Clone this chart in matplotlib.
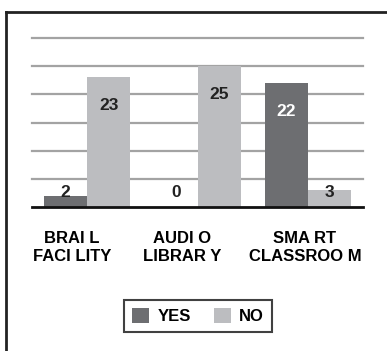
import matplotlib
matplotlib.use('Agg')
import matplotlib.pyplot as plt
import matplotlib.transforms as mtransforms
from matplotlib.lines import Line2D
import numpy as np

categories = ['BRAI L\nFACI LITY', 'AUDI O\nLIBRAR Y', 'SMA RT\nCLASSROO M']
yes_vals = [2, 0, 22]
no_vals = [23, 25, 3]
series_names = ['YES', 'NO']

dark = '#6d6e71'
light = '#bcbdc0'

plt.rcParams['font.family'] = ['Liberation Sans', 'DejaVu Sans']
plt.rcParams['font.weight'] = 'bold'

W, H = 387, 351
fig = plt.figure(figsize=(W / 100, H / 100), dpi=100)
ax = fig.add_axes([32 / W, 1 - 207 / H, 331 / W, 169 / H])

x = np.arange(len(categories))
w = 0.39
b1 = ax.bar(x - w / 2, yes_vals, w, color=dark, label=series_names[0], zorder=3)
b2 = ax.bar(x + w / 2, no_vals, w, color=light, label=series_names[1], zorder=3)

ax.set_xlim(-0.5, 2.5)
ax.set_ylim(0, 30)
ax.set_yticks(np.arange(5, 31, 5))
ax.yaxis.grid(True, color='#a3a3a3', linewidth=1.6, zorder=0)
for gl in ax.get_ygridlines():
    gl.set_clip_on(False)
ax.tick_params(axis='y', length=0, labelleft=False)
ax.tick_params(axis='x', length=0, pad=17)
for s in ['top', 'right', 'left']:
    ax.spines[s].set_visible(False)
ax.spines['bottom'].set_linewidth(2)
ax.spines['bottom'].set_color('#111111')
ax.spines['bottom'].set_zorder(4)

ax.set_xticks(x)
ax.set_xticklabels(categories, fontsize=12, fontweight='bold', linespacing=1.3)
shifts = [-15, -15, -3]
for lab, dx in zip(ax.get_xticklabels(), shifts):
    lab.set_transform(lab.get_transform() + mtransforms.Affine2D().translate(dx, 0))

# value labels
for bars, vals in [(b1, yes_vals), (b2, no_vals)]:
    for bar, v in zip(bars, vals):
        cx = bar.get_x() + bar.get_width() / 2
        if v > 10:
            y = v - 5
            col = 'white' if bar.get_facecolor()[0] < 0.5 else '#222222'
        else:
            y = 2.6
            col = '#222222'
        ax.text(cx, y, str(v), ha='center', va='center', fontsize=12.5,
                fontweight='bold', color=col, zorder=5)

leg = fig.legend(loc='center', bbox_to_anchor=(198 / W, 1 - 316 / H), ncol=2,
                 fontsize=12, frameon=True, fancybox=False, edgecolor='#111111',
                 handlelength=1.0, handleheight=1.0, columnspacing=1.4,
                 handletextpad=0.5, borderpad=0.5, borderaxespad=0)
leg.get_frame().set_linewidth(1.5)
for t in leg.get_texts():
    t.set_fontweight('bold')

# outer border (top and left only)
fig.add_artist(Line2D([6 / W, 6 / W], [0, 1 - 12 / H], color='#222222', linewidth=2))
fig.add_artist(Line2D([6 / W, 1], [1 - 12 / H, 1 - 12 / H], color='#222222', linewidth=2))

fig.savefig('out.png', dpi=100)
